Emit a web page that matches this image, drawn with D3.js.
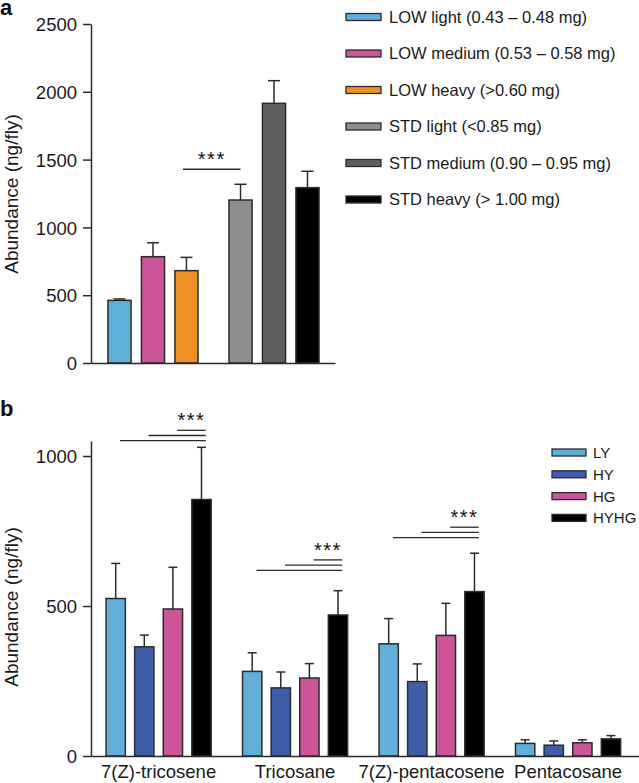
<!DOCTYPE html>
<html>
<head>
<meta charset="utf-8">
<script src="https://cdnjs.cloudflare.com/ajax/libs/d3/7.8.5/d3.min.js"></script>
<style>
  html, body { margin: 0; padding: 0; background: #fff; }
  svg { display: block; font-family: "Liberation Sans", Arial, Helvetica, sans-serif; }
</style>
</head>
<body>
<svg id="chart" width="639" height="783"></svg>
<script>
// ---------- Panel a data ----------
const aGroups = ["LOW", "STD"];
const aLevels = ["light", "medium", "heavy"];
const aLegendLabels = [
  "LOW light (0.43 \u2013 0.48 mg)",
  "LOW medium (0.53 \u2013 0.58 mg)",
  "LOW heavy (>0.60 mg)",
  "STD light (<0.85 mg)",
  "STD medium (0.90 \u2013 0.95 mg)",
  "STD heavy (> 1.00 mg)"
];
const aColors = ["#5eb0da", "#cc5597", "#ef9122", "#8f8f8f", "#5f5f5f", "#000000"];
const aMeans = [462, 784, 681, 1202, 1915, 1293];
const aErrors = [10, 103, 98, 116, 167, 121];
const aTicks = [0, 500, 1000, 1500, 2000, 2500];
const aSigLevel = 1428;

// ---------- Panel b data ----------
const bCompounds = ["7(Z)-tricosene", "Tricosane", "7(Z)-pentacosene", "Pentacosane"];
const bSeries = ["LY", "HY", "HG", "HYHG"];
const bColors = ["#62aed9", "#3e5ea9", "#cc5597", "#000000"];
const bLY   = [525, 282, 374, 42];
const bHY   = [364, 227, 248, 36];
const bHG   = [490, 260, 402, 44];
const bHYHG = [855, 470, 548, 57];
const bErrLY   = [117, 62, 84, 12];
const bErrHY   = [39, 53, 59, 14];
const bErrHG   = [139, 48, 107, 10];
const bErrHYHG = [174, 81, 128, 11];
const bTicks = [0, 500, 1000];
const bSigLevels = [1051, 619, 728]; // bottom line level for first three compounds

const svg = d3.select("#chart");
const ink = "#2b2b2b";
const fmt = d3.format("d");

// ================= Panel a =================
const ay = d3.scaleLinear().domain([0, 2500]).range([363, 24]);
const ax0 = d3.scaleBand().domain(aGroups).range([91, 335])
  .paddingInner(0.256).paddingOuter(0.136).align(0.515);
const ax1 = d3.scaleBand().domain(aLevels).range([0, ax0.bandwidth()])
  .paddingInner(0.31).paddingOuter(0);

const aData = aMeans.map((m, i) => ({
  group: aGroups[Math.floor(i / 3)], level: aLevels[i % 3],
  mean: m, err: aErrors[i], color: aColors[i]
}));
const aX = d => ax0(d.group) + ax1(d.level);

const ga = svg.append("g");
ga.selectAll("line.err").data(aData).join("line")
  .attr("x1", d => aX(d) + ax1.bandwidth() / 2).attr("x2", d => aX(d) + ax1.bandwidth() / 2)
  .attr("y1", d => ay(d.mean)).attr("y2", d => ay(d.mean + d.err))
  .attr("stroke", ink).attr("stroke-width", 1.5);
ga.selectAll("line.cap").data(aData).join("line")
  .attr("x1", d => aX(d) + ax1.bandwidth() / 2 - 6).attr("x2", d => aX(d) + ax1.bandwidth() / 2 + 6)
  .attr("y1", d => ay(d.mean + d.err)).attr("y2", d => ay(d.mean + d.err))
  .attr("stroke", ink).attr("stroke-width", 1.5);
ga.selectAll("rect").data(aData).join("rect")
  .attr("x", d => aX(d)).attr("width", ax1.bandwidth())
  .attr("y", d => ay(d.mean)).attr("height", d => ay(0) - ay(d.mean))
  .attr("fill", d => d.color).attr("stroke", ink).attr("stroke-width", 1.5);

const aYAxis = ga.append("g").attr("transform", "translate(91,0)")
  .call(d3.axisLeft(ay).tickValues(aTicks).tickFormat(fmt).tickSize(8).tickSizeOuter(0).tickPadding(6));
const aXAxis = ga.append("g").attr("transform", "translate(0,363)")
  .call(d3.axisBottom(ax0).tickSize(0).tickSizeOuter(0).tickFormat(""));
[aYAxis, aXAxis].forEach(g => {
  g.selectAll("path,line").attr("stroke", ink).attr("stroke-width", 1.5);
  g.selectAll("text").attr("font-size", 18.5).attr("fill", "#1a1a1a").attr("font-family", null);
});
aYAxis.selectAll("text").attr("dy", "0.36em");

{
  const d1 = aData[2], d2 = aData[3];
  const x1 = aX(d1) + ax1.bandwidth() * 0.35, x2 = aX(d2) + ax1.bandwidth() * 0.5;
  const y = ay(aSigLevel);
  ga.append("line").attr("x1", x1).attr("x2", x2).attr("y1", y).attr("y2", y)
    .attr("stroke", ink).attr("stroke-width", 1.5);
  ga.append("text").attr("x", (x1 + x2) / 2).attr("y", y - 3).attr("text-anchor", "middle")
    .attr("font-size", 20).attr("letter-spacing", 1.5).attr("fill", "#111").text("***");
}

ga.append("text").attr("transform", "translate(18,194) rotate(-90)")
  .attr("text-anchor", "middle").attr("font-size", 19).attr("fill", "#1a1a1a")
  .text("Abundance (ng/fly)");
svg.append("text").attr("x", 0).attr("y", 14.5).attr("font-size", 22).attr("font-weight", "bold")
  .attr("fill", "#111").text("a");

const aLeg = svg.append("g").selectAll("g").data(aLegendLabels).join("g")
  .attr("transform", (d, i) => `translate(346,${17 + i * 36.5})`);
aLeg.append("rect").attr("x", 0).attr("y", -3.5).attr("width", 35).attr("height", 7)
  .attr("fill", (d, i) => aColors[i]).attr("stroke", ink).attr("stroke-width", 1.3);
aLeg.append("text").attr("x", 43).attr("dy", "0.36em").attr("font-size", 16.5)
  .attr("fill", "#1a1a1a").text(d => d);

// ================= Panel b =================
const by = d3.scaleLinear().domain([0, 1050]).range([756, 441]);
const bx0 = d3.scaleBand().domain(bCompounds).range([91, 639])
  .paddingInner(0.23).paddingOuter(0.1225).align(0.45);
const bx1 = d3.scaleBand().domain(bSeries).range([0, bx0.bandwidth()])
  .paddingInner(0.325).paddingOuter(0);

const bMeans = [bLY, bHY, bHG, bHYHG];
const bErrs = [bErrLY, bErrHY, bErrHG, bErrHYHG];
const bData = [];
bCompounds.forEach((c, ci) => bSeries.forEach((s, si) => bData.push({
  compound: c, series: s, mean: bMeans[si][ci], err: bErrs[si][ci], color: bColors[si]
})));
const bX = d => bx0(d.compound) + bx1(d.series);
const gb = svg.append("g");

gb.selectAll("line.err").data(bData).join("line")
  .attr("x1", d => bX(d) + bx1.bandwidth() / 2).attr("x2", d => bX(d) + bx1.bandwidth() / 2)
  .attr("y1", d => by(d.mean)).attr("y2", d => by(d.mean + d.err))
  .attr("stroke", ink).attr("stroke-width", 1.5);
gb.selectAll("line.cap").data(bData).join("line")
  .attr("x1", d => bX(d) + bx1.bandwidth() / 2 - 4.5).attr("x2", d => bX(d) + bx1.bandwidth() / 2 + 4.5)
  .attr("y1", d => by(d.mean + d.err)).attr("y2", d => by(d.mean + d.err))
  .attr("stroke", ink).attr("stroke-width", 1.5);
gb.selectAll("rect").data(bData).join("rect")
  .attr("x", d => bX(d)).attr("width", bx1.bandwidth())
  .attr("y", d => by(d.mean)).attr("height", d => by(0) - by(d.mean))
  .attr("fill", d => d.color).attr("stroke", ink).attr("stroke-width", 1.5);

const bYAxis = gb.append("g").attr("transform", "translate(91,0)")
  .call(d3.axisLeft(by).tickValues(bTicks).tickFormat(fmt).tickSize(8).tickSizeOuter(0).tickPadding(6));
const bXAxis = gb.append("g").attr("transform", "translate(0,756)")
  .call(d3.axisBottom(bx0).tickSize(0).tickSizeOuter(0).tickPadding(9));
[bYAxis, bXAxis].forEach(g => {
  g.selectAll("path,line").attr("stroke", ink).attr("stroke-width", 1.5);
  g.selectAll("text").attr("font-size", 18.5).attr("fill", "#1a1a1a").attr("font-family", null);
});
bYAxis.selectAll("text").attr("dy", "0.36em");

bSigLevels.forEach((lvl, ci) => {
  const c = bCompounds[ci];
  const xEnd = bx0(c) + bx1("HYHG") + bx1.bandwidth() * 0.72;
  const y0 = by(lvl);
  ["LY", "HY", "HG"].forEach((s, k) => {
    const xs = bx0(c) + bx1(s) + bx1.bandwidth() * 0.72;
    const y = y0 - k * 5.2;
    gb.append("line").attr("x1", xs).attr("x2", xEnd).attr("y1", y).attr("y2", y)
      .attr("stroke", ink).attr("stroke-width", 1.3);
  });
  const xsTop = bx0(c) + bx1("HG") + bx1.bandwidth() * 0.72;
  gb.append("text").attr("x", (xsTop + xEnd) / 2).attr("y", y0 - 10.4 - 3)
    .attr("text-anchor", "middle").attr("font-size", 20).attr("letter-spacing", 1.5)
    .attr("fill", "#111").text("***");
});

gb.append("text").attr("transform", "translate(18,607) rotate(-90)")
  .attr("text-anchor", "middle").attr("font-size", 19).attr("fill", "#1a1a1a")
  .text("Abundance (ng/fly)");
svg.append("text").attr("x", 0).attr("y", 416).attr("font-size", 22).attr("font-weight", "bold")
  .attr("fill", "#111").text("b");

const bLeg = svg.append("g").selectAll("g").data(bSeries).join("g")
  .attr("transform", (d, i) => `translate(552,${452.5 + i * 21.8})`);
bLeg.append("rect").attr("x", 0).attr("y", -3.5).attr("width", 34).attr("height", 7)
  .attr("fill", (d, i) => bColors[i]).attr("stroke", ink).attr("stroke-width", 1.3);
bLeg.append("text").attr("x", 41).attr("dy", "0.36em").attr("font-size", 15)
  .attr("fill", "#1a1a1a").text(d => d);
</script>
</body>
</html>
